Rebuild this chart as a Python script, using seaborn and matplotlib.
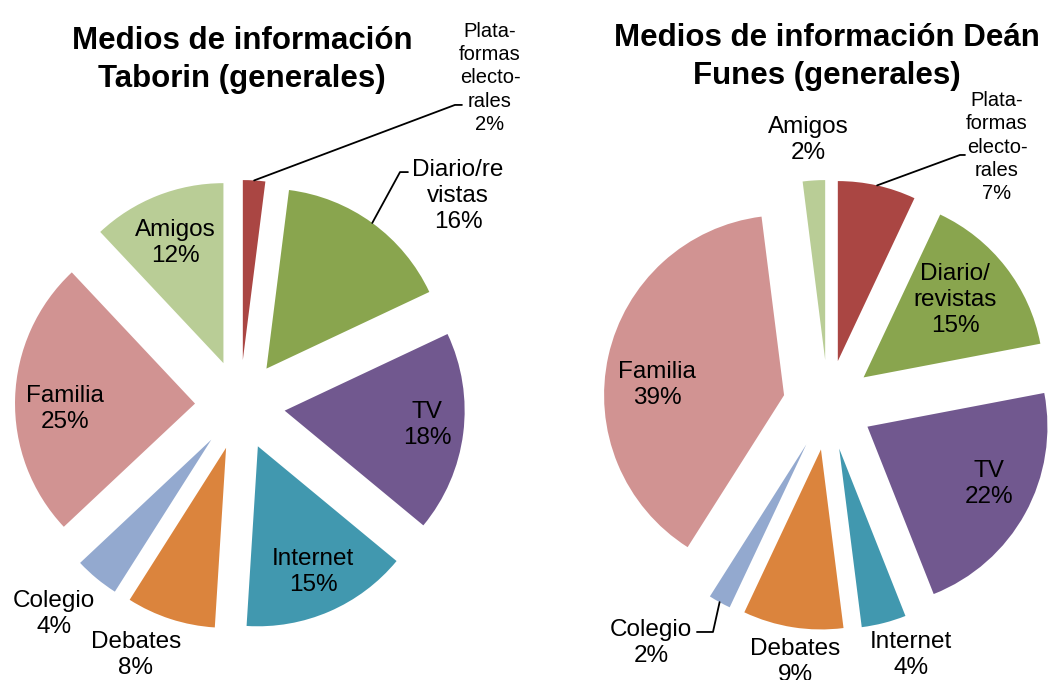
import numpy as np
import matplotlib
matplotlib.use("Agg")
import matplotlib.pyplot as plt
import seaborn as sns

# datos
categories = ["Plataformas electorales", "Diario/revistas", "TV", "Internet",
              "Debates", "Colegio", "Familia", "Amigos"]
taborin_values = [2, 16, 18, 15, 8, 4, 25, 12]
dean_funes_values = [7, 15, 22, 4, 9, 2, 39, 2]

taborin_names = ["Plata-\nformas\nelecto-\nrales", "Diario/re\nvistas", "TV", "Internet",
                 "Debates", "Colegio", "Familia", "Amigos"]
dean_funes_names = ["Plata-\nformas\nelecto-\nrales", "Diario/\nrevistas", "TV", "Internet",
                    "Debates", "Colegio", "Familia", "Amigos"]
titles = ["Medios de información\nTaborin (generales)",
          "Medios de información Deán\nFunes (generales)"]

sns.set_theme(style="white")
plt.rcParams["font.family"] = ["Liberation Sans", "DejaVu Sans"]

palette = sns.color_palette(["#AA4643", "#89A54E", "#71588F", "#4198AF",
                             "#DB843D", "#93A9CF", "#D19392", "#B9CD96"])

W, H = 1051, 680
SCALE = 180  # px per pie radius

# posiciones de las etiquetas (en radios, respecto al centro del pastel)
taborin_label_xy = [(1.389, 1.817), (1.211, 1.161), (1.039, -0.111), (0.406, -0.928),
                    (-0.578, -1.389), (-1.033, -1.161), (-0.972, -0.022), (-0.361, 0.90)]
dean_label_xy = [(0.939, 1.433), (0.706, 0.583), (0.894, -0.439), (0.461, -1.389),
                 (-0.183, -1.428), (-0.983, -1.322), (-0.95, 0.111), (-0.111, 1.472)]
# líneas guía: indice -> (codo, final)
taborin_leaders = {0: [(1.194, 1.667), (1.233, 1.667)],
                   1: [(0.889, 1.294), (0.933, 1.294)]}
dean_leaders = {0: [(0.733, 1.389), (0.761, 1.389)],
                5: [(-0.639, -1.261), (-0.728, -1.261)]}


def draw_pie(ax, values, names, label_xy, leaders, cx, x0, x1):
    wedges, _ = ax.pie(values, colors=palette, startangle=90, counterclock=False,
                       explode=[0.25] * len(values), radius=1,
                       wedgeprops=dict(linewidth=0))
    ax.set_xlim((x0 - cx) / SCALE, (x1 - cx) / SCALE)
    ax.set_ylim((405 - H) / SCALE, 405 / SCALE)
    ax.set_aspect("auto")
    ax.axis("off")
    for i, w in enumerate(wedges):
        if i == 0:
            size, ls = 14.5, 1.28
        else:
            size, ls = 17.5, 1.22
        ax.text(label_xy[i][0], label_xy[i][1], f"{names[i]}\n{values[i]}%",
                ha="center", va="center", multialignment="center",
                fontsize=size, linespacing=ls, color="black")
        if i in leaders:
            mid = np.deg2rad((w.theta1 + w.theta2) / 2)
            px = w.center[0] + w.r * np.cos(mid)
            py = w.center[1] + w.r * np.sin(mid)
            pts = [(px, py)] + leaders[i]
            ax.plot([p[0] for p in pts], [p[1] for p in pts], color="black", lw=1.3)


fig = plt.figure(figsize=(W / 100, H / 100), dpi=100)
ax1 = fig.add_axes([0, 0, 525 / W, 1])
ax2 = fig.add_axes([525 / W, 0, 526 / W, 1])

draw_pie(ax1, taborin_values, taborin_names, taborin_label_xy, taborin_leaders, 240, 0, 525)
draw_pie(ax2, dean_funes_values, dean_funes_names, dean_label_xy, dean_leaders, 828, 525, 1051)

fig.text(242 / W, 1 - 60 / H, titles[0], ha="center", va="center", color="black",
         fontsize=22.5, fontweight="bold", linespacing=1.38)
fig.text(827 / W, 1 - 57 / H, titles[1], ha="center", va="center", color="black",
         fontsize=22.5, fontweight="bold", linespacing=1.38)

fig.savefig("out.png", dpi=100)
